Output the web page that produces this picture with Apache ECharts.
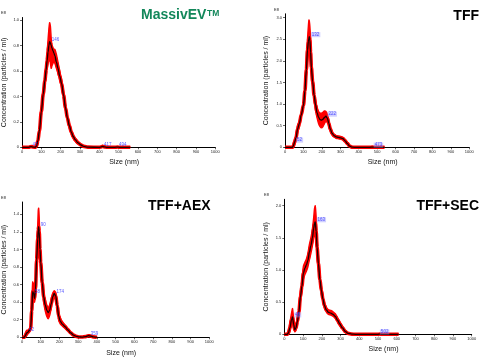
<!DOCTYPE html>
<html>
<head>
<meta charset="utf-8">
<script src="https://cdn.jsdelivr.net/npm/echarts@6/dist/echarts.min.js"></script>
<style>
html,body{margin:0;padding:0;background:#fff;}
#chart{width:500px;height:358px;}
</style>
</head>
<body>
<div id="chart"></div>
<script>
// ---------- shared axis data ----------
const xTickValues = [0,100,200,300,400,500,600,700,800,900,1000];
const xTickLabels = ['0','100','200','300','400','500','600','700','800','900','1000'];

// ---------- Panel 1: MassivEV ----------
const p1Title = 'MassivEV';
const p1Size  = [0,35,47,58,68,75,82,90,100,110,118,125,130,135,139,143,147,151,155,160,165,170,178,186,195,205,215,225,235,245,255,265,275,290,305,320,340,400,410,417,425,440,480,494,505,560];
const p1Mean  = [0,0,0.006,0.002,0,0.01,0.05,0.13,0.28,0.42,0.52,0.61,0.68,0.75,0.8,0.83,0.82,0.8,0.78,0.76,0.74,0.72,0.67,0.62,0.56,0.5,0.41,0.31,0.23,0.17,0.12,0.085,0.06,0.035,0.018,0.007,0.001,0,0.003,0.008,0.003,0,0,0.002,0,0];
const p1Lower = [0,0,0,0,0,0,0.03,0.11,0.25,0.39,0.48,0.56,0.62,0.66,0.68,0.7,0.66,0.62,0.64,0.66,0.67,0.66,0.62,0.58,0.53,0.47,0.38,0.29,0.21,0.15,0.105,0.07,0.048,0.025,0.01,0.002,0,0,0,0,0,0,0,0,0,0];
const p1Upper = [0,0,0.012,0.006,0.002,0.02,0.07,0.15,0.31,0.45,0.56,0.66,0.75,0.85,0.93,0.98,0.95,0.86,0.8,0.78,0.77,0.77,0.73,0.67,0.6,0.53,0.44,0.34,0.25,0.19,0.135,0.1,0.072,0.045,0.026,0.012,0.004,0.001,0.007,0.014,0.007,0.001,0,0.004,0.001,0];
const p1Peaks = [[47,0.006,'47'],[146,0.83,'146'],[417,0.008,'417'],[494,0.002,'494']];
const p1YTicks  = [0,0.2,0.4,0.6,0.8,1.0];
const p1YLabels = ['0','0.2','0.4','0.6','0.8','1.0'];

// ---------- Panel 2: TFF ----------
const p2Title = 'TFF';
const p2Size  = [0,40,45,52,60,68,78,88,100,108,116,122,127,130,132,135,139,143,150,158,166,174,182,190,198,206,214,222,230,238,246,256,266,278,290,302,314,326,338,350,362,375,400,460,473,486,540];
const p2Mean  = [0,0,0.03,0.12,0.22,0.42,0.55,0.75,0.97,1.3,1.8,2.25,2.45,2.53,2.56,2.48,2.2,1.85,1.52,1.2,0.98,0.8,0.7,0.64,0.63,0.65,0.69,0.72,0.67,0.55,0.42,0.32,0.27,0.24,0.23,0.22,0.2,0.15,0.09,0.03,0.005,0,0,0,0.004,0,0];
const p2Lower = [0,0,0,0.06,0.15,0.33,0.48,0.7,0.93,1.22,1.65,2.0,2.15,2.2,2.18,2.1,1.95,1.7,1.42,1.1,0.85,0.68,0.55,0.48,0.45,0.48,0.55,0.6,0.57,0.48,0.37,0.28,0.24,0.21,0.2,0.19,0.17,0.12,0.065,0.015,0,0,0,0,0,0,0];
const p2Upper = [0,0.01,0.08,0.18,0.3,0.5,0.62,0.8,1.02,1.38,1.95,2.5,2.82,2.95,2.92,2.8,2.5,2.05,1.62,1.3,1.08,0.92,0.83,0.79,0.79,0.81,0.84,0.83,0.76,0.62,0.47,0.36,0.3,0.27,0.26,0.25,0.23,0.18,0.115,0.05,0.015,0.003,0,0.002,0.01,0.002,0];
const p2Peaks = [[52,0.12,'52'],[132,2.56,'132'],[222,0.72,'222'],[473,0.004,'473']];
const p2YTicks  = [0,0.5,1.0,1.5,2.0,2.5,3.0];
const p2YLabels = ['0','0.5','1.0','1.5','2.0','2.5','3.0'];

// ---------- Panel 3: TFF+AEX ----------
const p3Title = 'TFF+AEX';
const p3Size  = [0,12,18,25,32,40,46,52,57,62,67,72,78,84,87,89,92,96,100,108,116,124,132,140,148,156,164,172,180,188,196,205,215,230,245,260,275,290,305,320,340,355,365,380,400];
const p3Mean  = [0,0,0.02,0.05,0.06,0.08,0.1,0.3,0.52,0.5,0.44,0.55,0.88,1.12,1.22,1.26,1.2,1.0,0.85,0.62,0.46,0.37,0.31,0.28,0.31,0.38,0.46,0.5,0.47,0.36,0.24,0.18,0.15,0.12,0.085,0.05,0.025,0.01,0.004,0.003,0.008,0.018,0.015,0.005,0];
const p3Lower = [0,0,0,0.02,0.04,0.06,0.08,0.24,0.44,0.42,0.4,0.5,0.8,1.02,1.1,1.12,1.08,0.92,0.78,0.56,0.4,0.3,0.24,0.21,0.25,0.33,0.42,0.45,0.42,0.31,0.2,0.15,0.13,0.1,0.07,0.04,0.018,0.005,0,0,0.002,0.01,0.008,0,0];
const p3Upper = [0,0.01,0.05,0.08,0.08,0.1,0.13,0.37,0.63,0.6,0.5,0.62,0.98,1.28,1.45,1.47,1.36,1.1,0.92,0.68,0.52,0.43,0.37,0.34,0.37,0.44,0.5,0.53,0.51,0.41,0.28,0.22,0.18,0.14,0.1,0.06,0.032,0.015,0.008,0.006,0.013,0.025,0.022,0.01,0];
const p3Peaks = [[29,0.06,'42'],[62,0.5,'58'],[92,1.26,'90'],[176,0.5,'174'],[359,0.018,'359']];
const p3YTicks  = [0,0.2,0.4,0.6,0.8,1.0,1.2,1.4];
const p3YLabels = ['0','0.2','0.4','0.6','0.8','1.0','1.2','1.4'];

// ---------- Panel 4: TFF+SEC ----------
const p4Title = 'TFF+SEC';
const p4Size  = [0,15,22,30,38,44,50,56,62,70,78,86,94,102,110,118,126,134,142,150,157,161,165,170,175,182,190,198,206,214,224,236,248,260,272,284,296,310,325,340,360,380,400,500,510,520,610];
const p4Mean  = [0,0,0.02,0.1,0.22,0.27,0.15,0.07,0.1,0.2,0.35,0.58,0.75,0.95,1.03,1.08,1.15,1.28,1.38,1.5,1.65,1.72,1.75,1.6,1.35,1.1,0.85,0.68,0.55,0.45,0.38,0.34,0.33,0.31,0.28,0.22,0.16,0.1,0.045,0.015,0.003,0,0,0,0.004,0,0];
const p4Lower = [0,0,0,0.05,0.14,0.18,0.1,0.04,0.06,0.15,0.3,0.52,0.68,0.86,0.93,0.98,1.05,1.16,1.26,1.38,1.5,1.55,1.55,1.42,1.22,1.0,0.78,0.62,0.5,0.41,0.35,0.31,0.3,0.28,0.25,0.19,0.13,0.08,0.03,0.005,0,0,0,0,0,0,0];
const p4Upper = [0,0.01,0.06,0.18,0.32,0.4,0.24,0.12,0.14,0.26,0.42,0.66,0.84,1.06,1.12,1.17,1.26,1.4,1.5,1.64,1.82,1.95,2.0,1.82,1.5,1.22,0.93,0.75,0.61,0.5,0.42,0.38,0.37,0.35,0.32,0.26,0.2,0.13,0.065,0.025,0.008,0.002,0,0.002,0.01,0.002,0];
const p4Peaks = [[45,0.27,'45'],[164,1.75,'163'],[502,0.004,'502']];
const p4YTicks  = [0,0.5,1.0,1.5,2.0];
const p4YLabels = ['0','0.5','1.0','1.5','2.0'];

// ---------- layout (positions/styles) ----------
const FONT = 'Liberation Sans, Arial, sans-serif';
const panels = [
  {size:p1Size, mean:p1Mean, lower:p1Lower, upper:p1Upper, peaks:p1Peaks, yTicks:p1YTicks, yLabels:p1YLabels,
   yMax:1.02, grid:{left:21.3, right:284.7, top:17.5, bottom:210.7}, peakBg:false, xGap:11, yGap:14},
  {size:p2Size, mean:p2Mean, lower:p2Lower, upper:p2Upper, peaks:p2Peaks, yTicks:p2YTicks, yLabels:p2YLabels,
   yMax:3.09, grid:{left:285, right:30.7, top:13.8, bottom:210.7}, peakBg:true, xGap:11, yGap:15},
  {size:p3Size, mean:p3Mean, lower:p3Lower, upper:p3Upper, peaks:p3Peaks, yTicks:p3YTicks, yLabels:p3YLabels,
   yMax:1.54, grid:{left:21.3, right:290.7, top:202, bottom:20.7}, peakBg:false, xGap:12, yGap:14},
  {size:p4Size, mean:p4Mean, lower:p4Lower, upper:p4Upper, peaks:p4Peaks, yTicks:p4YTicks, yLabels:p4YLabels,
   yMax:2.1, grid:{left:284.3, right:28.3, top:199.3, bottom:23.7}, peakBg:true, xGap:11, yGap:15}
];

const grids = [], xAxes = [], yAxes = [], series = [];
panels.forEach((p, i) => {
  grids.push(Object.assign({containLabel:false}, p.grid));
  xAxes.push({
    type:'value', gridIndex:i, min:0, max:1000, interval:100,
    axisLine:{show:true, lineStyle:{color:'#000', width:1}},
    axisTick:{show:true, length:2, lineStyle:{color:'#000', width:0.6}},
    axisLabel:{fontSize:4, color:'#222', margin:3, fontFamily:FONT,
      formatter:(v)=>xTickLabels[xTickValues.indexOf(v)] ?? ''},
    splitLine:{show:false},
    name:'Size (nm)', nameLocation:'middle', nameGap:p.xGap,
    nameTextStyle:{fontSize:7, color:'#111', fontFamily:FONT, padding:[0,0,0,11]}
  });
  yAxes.push({
    type:'value', gridIndex:i, min:0, max:p.yMax,
    axisLine:{show:true, lineStyle:{color:'#000', width:1}},
    axisTick:{show:true, length:2, customValues:p.yTicks, lineStyle:{color:'#000', width:0.6}},
    axisLabel:{fontSize:4, color:'#222', margin:3, fontFamily:FONT, customValues:p.yTicks,
      formatter:(v)=>{const k=p.yTicks.findIndex(t=>Math.abs(t-v)<1e-9); return k>=0?p.yLabels[k]:'';}},
    splitLine:{show:false},
    name:'Concentration (particles / ml)', nameLocation:'middle', nameGap:p.yGap,
    nameTextStyle:{fontSize:7, color:'#111', fontFamily:FONT}
  });
  const meanData  = p.size.map((x,k)=>[x, p.mean[k]]);
  // red variability band: polygon through upper edge then back along lower edge, positioned by the axes
  series.push({
    type:'custom', xAxisIndex:i, yAxisIndex:i, silent:true, z:2, clip:true,
    data:[[0,0]],
    renderItem:(params, api)=>{
      const pts = [];
      for (let k=0;k<p.size.length;k++) pts.push(api.coord([p.size[k], p.upper[k]]));
      for (let k=p.size.length-1;k>=0;k--) pts.push(api.coord([p.size[k], p.lower[k]]));
      return {type:'polygon', shape:{points:pts, smooth:0.2}, style:{fill:'#ff0000', stroke:'#ff0000', lineWidth:1.4, lineJoin:'round'}};
    }
  });
  const common = {type:'line', xAxisIndex:i, yAxisIndex:i, symbol:'none', smooth:0.35, smoothMonotone:'x', silent:true};
  series.push(Object.assign({}, common, {name:'meanRed'+i, data:meanData,
    lineStyle:{color:'#ff0000', width:3.6}, z:3}));
  series.push(Object.assign({}, common, {name:'mean'+i, data:meanData,
    lineStyle:{color:'#1a0000', width:1.3}, z:4}));
  series.push({
    type:'scatter', xAxisIndex:i, yAxisIndex:i, symbol:'circle', symbolSize:1, silent:true, z:5,
    itemStyle:{color:'rgba(0,0,0,0)'},
    data:p.peaks.map(pk=>[pk[0], pk[1], pk[2]]),
    label:{show:true, position:'right', distance:1, offset:[0,-2],
      formatter:(d)=>d.value[2], fontSize:4.5, color:'#2b2bff', fontFamily:FONT,
      backgroundColor:p.peakBg?'rgba(150,150,255,0.55)':'transparent', padding:p.peakBg?[0,1]:0}
  });
});

const smallText = (x,y,t)=>({type:'text', x, y, z:100, style:{text:t, fontSize:4, fill:'#222', font:'4px '+FONT}});
const titleText = (x,y,t,align,color)=>({type:'text', x, y, z:100,
  style:{text:t, fill:color, font:'bold 14px '+FONT, textAlign:align, textVerticalAlign:'top'}});

const option = {
  animation:false,
  backgroundColor:'#ffffff',
  grid:grids, xAxis:xAxes, yAxis:yAxes, series:series,
  graphic:[
    smallText(1,11,'E8'), smallText(274,8,'E8'), smallText(1,196,'E8'), smallText(264,193,'E8'),
    titleText(141,8,p1Title,'left','#12875a'),
    {type:'text', x:207, y:9, z:100, style:{text:'TM', fill:'#12875a', font:'bold 8.5px '+FONT, textAlign:'left', textVerticalAlign:'top'}},
    titleText(479,9,p2Title,'right','#000'),
    titleText(148,199,p3Title,'left','#000'),
    titleText(479,199,p4Title,'right','#000')
  ]
};
const chart = echarts.init(document.getElementById('chart'), null, {renderer:'canvas'});
chart.setOption(option);
</script>
</body>
</html>
